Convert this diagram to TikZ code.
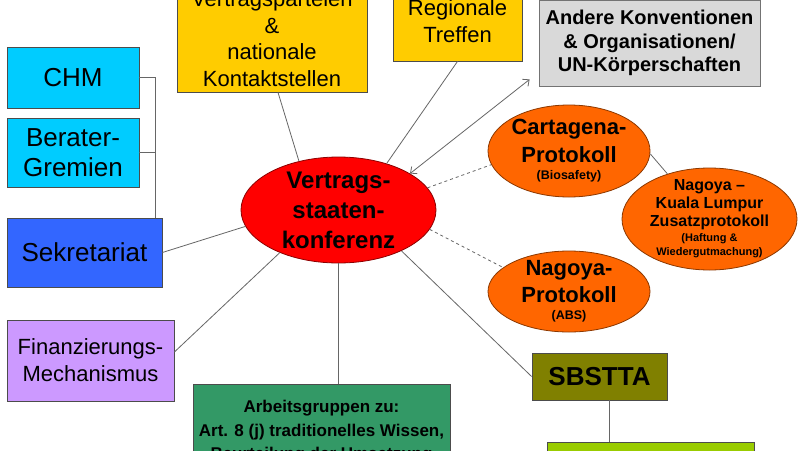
\documentclass[tikz,border=0pt]{standalone}
\usepackage{fontspec}
\setmainfont{Liberation Sans}
\usetikzlibrary{shapes.geometric, arrows.meta}
\definecolor{cyanbox}{RGB}{0,204,255}
\definecolor{bluebox}{RGB}{51,102,255}
\definecolor{lilacbox}{RGB}{204,153,255}
\definecolor{goldbox}{RGB}{255,204,0}
\definecolor{greybox}{RGB}{217,217,217}
\definecolor{orangeov}{RGB}{255,102,0}
\definecolor{redov}{RGB}{255,0,0}
\definecolor{olivebox}{RGB}{128,128,0}
\definecolor{greenbox}{RGB}{51,153,102}
\definecolor{limebox}{RGB}{153,204,0}

\begin{document}
\begin{tikzpicture}[x=1pt,y=-1pt,
  box/.style={draw=black!70,line width=.8pt,fill=#1,inner sep=0pt,align=center},
  oval/.style={draw=#1!55!black,line width=.8pt,fill=#1,shape=ellipse,inner sep=0pt},
  txt/.style 2 args={font=\fontsize{#1}{#2}\selectfont,align=center},
  btxt/.style 2 args={font=\bfseries\fontsize{#1}{#2}\selectfont,align=center},
  con/.style={draw=black!60,line width=.8pt}]
  \useasboundingbox (0,0) rectangle (800,450);
  \clip (0,0) rectangle (800,450);
  \fill[white] (0,0) rectangle (800,450);
  \path (73,77.5) node[box=cyanbox,minimum width=132,minimum height=61,txt={26}{30}] (chm) {CHM}
  (73,152.5) node[box=cyanbox,minimum width=132,minimum height=69,txt={26}{30}] (ber) {Berater-\\Gremien}
  (84.5,252.5) node[box=bluebox,minimum width=155,minimum height=69,txt={26}{30}] (sek) {Sekretariat}
  (90.5,360.5) node[box=lilacbox,minimum width=167,minimum height=81,txt={22}{27}] (fin) {Finanzierungs-\\Mechanismus}
  (272,38.5) node[box=goldbox,minimum width=190,minimum height=107,txt={22}{26.5}] (vp) {Vertragsparteien\\\&\\nationale\\Kontaktstellen}
  (457.5,21) node[box=goldbox,minimum width=129,minimum height=80,txt={22}{27}] (reg) {Regionale\\Treffen}
  (649.5,43) node[box=greybox,draw=black!55,minimum width=221,minimum height=86,btxt={20}{23.5}] (konv) {Andere Konventionen\\\& Organisationen/\\UN-Körperschaften}
  (599.5,376.5) node[box=olivebox,minimum width=135,minimum height=47,btxt={26}{30}] (sbs) {SBSTTA}
  (650.5,472) node[box=limebox,minimum width=207,minimum height=60] (lime) {}
  (321.5,432) node[box=greenbox,minimum width=257,minimum height=96,btxt={17}{23.5}] (ag) {Arbeitsgruppen zu:\\Art. 8 (j) traditionelles Wissen,\\Beurteilung der Umsetzung};
  \path (338.5,210) node[oval=redov,minimum width=195,minimum height=106,
    label={[btxt={24}{30}]center:Vertrags-\\staaten-\\konferenz}] (kon) {}
  (569,151) node[oval=orangeov,minimum width=162,minimum height=92,
    label={[btxt={22}{28}]center:Cartagena-\\Protokoll\\[-11pt]{\fontsize{12.5}{14}\selectfont(Biosafety)}}] (cart) {}
  (709.5,219) node[oval=orangeov,minimum width=175,minimum height=102,
    label={[btxt={16}{18}]center:Nagoya --\\Kuala Lumpur\\Zusatzprotokoll\\[-3pt]{\fontsize{11}{14}\selectfont(Haftung \&}\\[-4pt]{\fontsize{11}{14}\selectfont Wiedergutmachung)}}] (nkl) {}
  (569,291.5) node[oval=orangeov,minimum width=162,minimum height=81,
    label={[btxt={22}{27}]center:Nagoya-\\Protokoll\\[-10pt]{\fontsize{12.5}{14}\selectfont(ABS)}}] (nag) {};
  \draw[con] (kon.129) -- ([xshift=6pt]vp.south);
  \draw[con] (kon.44) -- (reg.south);
  \draw[con,{Straight Barb[length=5pt,width=9pt]}-{Straight Barb[length=5pt,width=9pt]}] (kon.27) -- ([xshift=-9pt,yshift=7pt]konv.south west);
  \draw[con,dashed] (kon.14) -- (cart.190);
  \draw[con,dashed] (kon.-12) -- (nag.160);
  \draw[con] (cart.-2) -- (nkl.133);
  \draw[con] (kon.-33) -- (sbs.west);
  \draw[con] ([xshift=9.5pt]sbs.south) -- ([xshift=9.5pt]sbs.south |- lime.north);
  \draw[con] (kon.south) -- (kon.south |- ag.north);
  \draw[con] (kon.216) -- ([yshift=8.5pt]fin.east);
  \draw[con] (kon.190) -- (sek.east);
  \draw[con] (chm.east) -- ++(16,0) coordinate (brk) -- (brk |- sek.north);
  \draw[con] (ber.east) -- (ber.east -| brk);
\end{tikzpicture}
\end{document}
